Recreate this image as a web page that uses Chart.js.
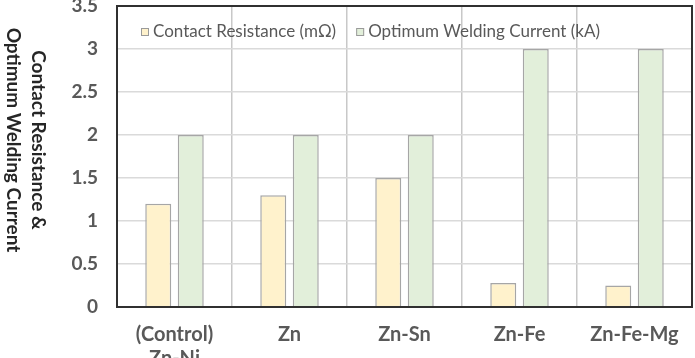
<!DOCTYPE html>
<html>
<head>
<meta charset="utf-8">
<script src="https://cdn.jsdelivr.net/npm/chart.js@4/dist/chart.umd.min.js"></script>
<style>
  html, body { margin: 0; padding: 0; background: #ffffff; }
  #wrap { width: 695px; height: 358px; position: relative; }
</style>
</head>
<body>
<div id="wrap"><canvas id="c" width="695" height="358"></canvas></div>
<script>
// ---- data ----
const categories = [["(Control)", "Zn-Ni"], "Zn", "Zn-Sn", "Zn-Fe", "Zn-Fe-Mg"];
const contactResistance = [1.2, 1.3, 1.5, 0.28, 0.25];
const weldingCurrent = [2, 2, 2, 3, 3];
const seriesLabels = ["Contact Resistance (m\u03A9)", "Optimum Welding Current (kA)"];
const yTitleLines = ["Contact Resistance &", "Optimum Welding Current"];

const FONT = "Lato, 'Open Sans', sans-serif";

const insideLegend = {
  id: 'insideLegend',
  afterDatasetsDraw(chart) {
    const ctx = chart.ctx, ca = chart.chartArea;
    ctx.save();
    ctx.font = "17px " + FONT;
    ctx.textBaseline = 'middle';
    let x = ca.left + 24;
    const y = ca.top + 26;
    chart.data.datasets.forEach(ds => {
      ctx.fillStyle = ds.backgroundColor;
      ctx.fillRect(x, y - 4, 8, 8);
      ctx.strokeStyle = '#9a9a9a';
      ctx.lineWidth = 1;
      ctx.strokeRect(x + 0.5, y - 3.5, 7, 7);
      ctx.fillStyle = '#595959';
      ctx.fillText(ds.label, x + 12, y);
      x += 12 + ctx.measureText(ds.label).width + 20;
    });
    ctx.restore();
  }
};

const frameAndTitle = {
  id: 'frameAndTitle',
  afterDraw(chart) {
    const ctx = chart.ctx, ca = chart.chartArea;
    ctx.save();
    ctx.strokeStyle = '#303030';
    ctx.lineWidth = 2;
    ctx.strokeRect(ca.left, ca.top, ca.right - ca.left, ca.bottom - ca.top);
    ctx.fillStyle = '#262626';
    ctx.font = "bold 19px " + FONT;
    ctx.textAlign = 'center';
    ctx.textBaseline = 'middle';
    ctx.translate(38, 140);
    ctx.rotate(Math.PI / 2);
    ctx.fillText(yTitleLines[0], 0, 0);
    ctx.fillText(yTitleLines[1], 0, 25);
    ctx.restore();
  }
};

new Chart(document.getElementById('c'), {
  type: 'bar',
  data: {
    labels: categories,
    datasets: [
      {
        label: seriesLabels[0],
        data: contactResistance,
        backgroundColor: '#fff2cc',
        borderColor: '#a6a6a6',
        borderWidth: 1.5,
        categoryPercentage: 0.565,
        barPercentage: 0.8
      },
      {
        label: seriesLabels[1],
        data: weldingCurrent,
        backgroundColor: '#e2efda',
        borderColor: '#a6a6a6',
        borderWidth: 1.5,
        categoryPercentage: 0.565,
        barPercentage: 0.8
      }
    ]
  },
  options: {
    responsive: false,
    animation: false,
    layout: { padding: { left: 0, right: 3, top: 6, bottom: 0 } },
    plugins: {
      legend: { display: false },
      tooltip: { enabled: false }
    },
    scales: {
      x: {
        grid: { color: '#c8c8c8', lineWidth: 1.5, drawTicks: false, offset: true },
        border: { display: false },
        ticks: {
          color: '#595959',
          font: { family: FONT, size: 20, weight: 'bold' },
          padding: 16,
          maxRotation: 0,
          autoSkip: false
        },
        afterFit(scale) { scale.height = 51; scale.paddingLeft = 0; scale.paddingRight = 0; }
      },
      y: {
        min: 0,
        max: 3.5,
        grid: { color: '#dadada', lineWidth: 1.5, drawTicks: false },
        border: { display: false },
        ticks: {
          stepSize: 0.5,
          color: '#595959',
          font: { family: FONT, size: 19, weight: 'bold' },
          padding: 19,
          callback: v => String(v)
        },
        afterFit(scale) { scale.width = 117; scale.paddingTop = 0; scale.paddingBottom = 0; }
      }
    }
  },
  plugins: [insideLegend, frameAndTitle]
});
</script>
</body>
</html>
